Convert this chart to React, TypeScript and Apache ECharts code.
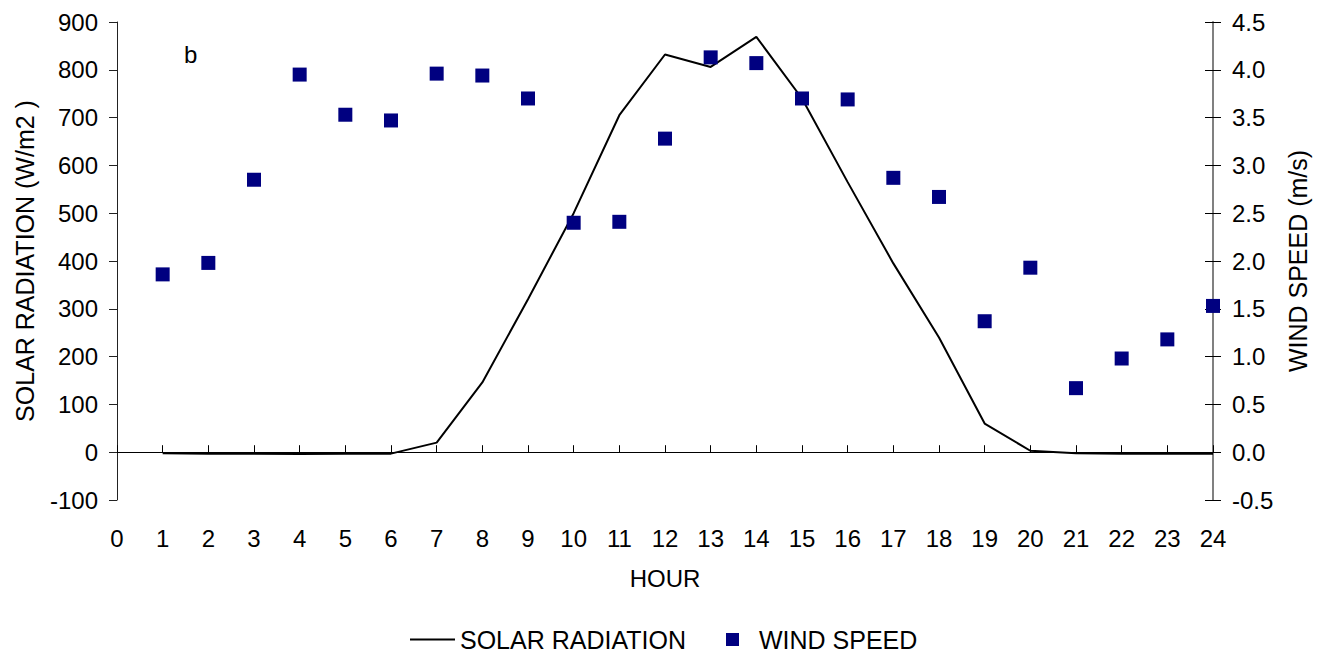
import React, { useEffect, useRef } from "react";
import * as echarts from "echarts";

const hours = [1, 2, 3, 4, 5, 6, 7, 8, 9, 10, 11, 12, 13, 14, 15, 16, 17, 18, 19, 20, 21, 22, 23, 24];
const solarRadiation = [-2, -3, -3, -4, -3, -3, 20, 146, 320, 500, 705, 832, 806, 869, 740, 565, 395, 240, 60, 3, -2, -3, -3, -3];
const windSpeed = [1.86, 1.98, 2.85, 3.95, 3.53, 3.47, 3.96, 3.94, 3.7, 2.4, 2.41, 3.28, 4.13, 4.07, 3.7, 3.69, 2.87, 2.67, 1.37, 1.93, 0.67, 0.98, 1.18, 1.53];

const FONT = "'Liberation Sans', Arial, sans-serif";

export default function App() {
  const ref = useRef<HTMLDivElement>(null);
  useEffect(() => {
    if (!ref.current) return;
    const chart = echarts.init(ref.current, undefined, { renderer: "svg" });
    const lbl = { color: "#000", fontSize: 24, fontFamily: FONT };
    const nm = { color: "#000", fontSize: 25, fontFamily: FONT };
    chart.setOption({
      animation: false,
      backgroundColor: "#fff",
      textStyle: { fontFamily: FONT },
      grid: { left: 117, right: 118, top: 22, bottom: 156 },
      legend: [
        {
          data: [{ name: "SOLAR RADIATION", icon: "rect" }],
          left: 405,
          top: 622,
          itemWidth: 45,
          itemHeight: 2,
          textStyle: { ...nm, padding: [0, 0, 0, 0] },
        },
        {
          data: [{ name: "WIND SPEED", icon: "rect" }],
          left: 721,
          top: 622,
          itemWidth: 13,
          itemHeight: 13,
          textStyle: { ...nm, padding: [0, 0, 0, 15] },
        },
      ],
      xAxis: [
        {
          type: "value",
          min: 0,
          max: 24,
          interval: 1,
          position: "bottom",
          axisLine: { show: false, onZero: false },
          axisTick: { show: false },
          splitLine: { show: false },
          axisLabel: { ...lbl, margin: 26 },
          name: "HOUR",
          nameLocation: "middle",
          nameGap: 66,
          nameTextStyle: lbl,
        },
        {
          type: "value",
          min: 0,
          max: 24,
          interval: 1,
          position: "bottom",
          axisLine: { show: true, onZero: true, onZeroAxisIndex: 0, lineStyle: { color: "#000", width: 1 } },
          axisTick: { show: true, inside: true, length: 7, lineStyle: { color: "#000" } },
          axisLabel: { show: false },
          splitLine: { show: false },
        },
      ],
      yAxis: [
        {
          type: "value",
          min: -100,
          max: 900,
          interval: 100,
          position: "left",
          axisLine: { show: true, onZero: false, lineStyle: { color: "#222", width: 1 } },
          axisTick: { show: true, length: 8, lineStyle: { color: "#222" } },
          splitLine: { show: false },
          axisLabel: { ...lbl, margin: 19 },
          name: "SOLAR RADIATION (W/m2 )",
          nameLocation: "middle",
          nameGap: 80,
          nameTextStyle: nm,
        },
        {
          type: "value",
          min: -0.5,
          max: 4.5,
          interval: 0.5,
          position: "right",
          axisLine: { show: true, onZero: false, lineStyle: { color: "#808080", width: 2 } },
          axisTick: { show: true, length: 8, lineStyle: { color: "#000" } },
          splitLine: { show: false },
          axisLabel: { ...lbl, margin: 19, formatter: (v: number) => v.toFixed(1) },
          name: "WIND SPEED (m/s)",
          nameLocation: "middle",
          nameGap: 72,
          nameTextStyle: nm,
        },
        {
          type: "value",
          min: -0.5,
          max: 4.5,
          interval: 0.5,
          position: "right",
          axisLine: { show: false, onZero: false },
          axisTick: { show: true, inside: true, length: 8, lineStyle: { color: "#000" } },
          splitLine: { show: false },
          axisLabel: { show: false },
        },
      ],
      graphic: [
        { type: "text", left: 184, top: 42, style: { text: "b", fontSize: 24, fontFamily: FONT, fill: "#000" } },
      ],
      series: [
        {
          name: "SOLAR RADIATION",
          type: "line",
          xAxisIndex: 0,
          yAxisIndex: 0,
          data: hours.map((h, i) => [h, solarRadiation[i]]),
          symbol: "none",
          lineStyle: { color: "#000", width: 2 },
          itemStyle: { color: "#000" },
          z: 3,
        },
        {
          name: "WIND SPEED",
          type: "scatter",
          xAxisIndex: 0,
          yAxisIndex: 1,
          data: hours.map((h, i) => [h, windSpeed[i]]),
          symbol: "rect",
          symbolSize: 14,
          itemStyle: { color: "#000080", opacity: 1 },
          z: 4,
        },
      ],
    });
    return () => chart.dispose();
  }, []);
  return <div ref={ref} style={{ width: 1331, height: 656, position: "absolute", left: 0, top: 0 }} />;
}
